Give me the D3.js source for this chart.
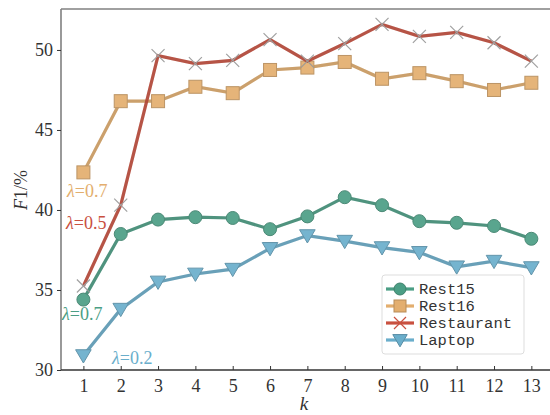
<!DOCTYPE html>
<html>
<head>
<meta charset="utf-8">
<script src="https://cdn.jsdelivr.net/npm/d3@7"></script>
<style>
  body { margin: 0; background: #fff; }
  svg { display: block; }
</style>
</head>
<body>
<div id="chart"></div>
<script>
// Data
var kValues = [1, 2, 3, 4, 5, 6, 7, 8, 9, 10, 11, 12, 13];
var rest15 = [34.4, 38.5, 39.4, 39.55, 39.5, 38.8, 39.6, 40.8, 40.3, 39.3, 39.2, 39.0, 38.2];
var rest16 = [42.35, 46.8, 46.8, 47.7, 47.3, 48.75, 48.9, 49.25, 48.2, 48.55, 48.05, 47.5, 47.95];
var restaurant = [35.25, 40.3, 49.65, 49.15, 49.35, 50.65, 49.3, 50.4, 51.6, 50.85, 51.1, 50.45, 49.3];
var laptop = [30.9, 33.8, 35.5, 36.0, 36.3, 37.6, 38.4, 38.05, 37.65, 37.35, 36.45, 36.8, 36.4];
var yTicks = [30, 35, 40, 45, 50];

var series = [
  { name: "Rest15", values: rest15, color: "#4b9e85", marker: "circle" },
  { name: "Rest16", values: rest16, color: "#e3ae6e", marker: "square" },
  { name: "Restaurant", values: restaurant, color: "#c9503f", marker: "x" },
  { name: "Laptop", values: laptop, color: "#6aaecb", marker: "triangle" }
];

var notes = [
  { text: "0.7", color: "#e3ae6e", x: 67, y: 197 },
  { text: "0.5", color: "#c9503f", x: 66, y: 229 },
  { text: "0.7", color: "#4b9e85", x: 62, y: 320 },
  { text: "0.2", color: "#6aaecb", x: 112, y: 364 }
];

// SVG area
var svgWidth = 550;
var svgHeight = 415;
var plot = { left: 61, top: 9, bottom: 370 };

var svg = d3.select("#chart")
  .append("svg")
  .attr("width", svgWidth)
  .attr("height", svgHeight);

var xScale = d3.scaleLinear()
  .domain([0.4, 13.6])
  .range([plot.left, plot.left + 13.2 * 37.33]);

var yScale = d3.scaleLinear()
  .domain([30, 52.56])
  .range([plot.bottom, plot.top]);

var serif = "'Liberation Serif', 'DejaVu Serif', serif";

// spines
svg.append("line")
  .attr("x1", plot.left).attr("x2", svgWidth)
  .attr("y1", plot.top).attr("y2", plot.top)
  .attr("stroke", "#808080").attr("stroke-width", 1.6);
svg.append("line")
  .attr("x1", plot.left).attr("x2", plot.left)
  .attr("y1", plot.top).attr("y2", plot.bottom)
  .attr("stroke", "#808080").attr("stroke-width", 1.6);

// x axis (ticks point inward)
var xAxis = d3.axisBottom(xScale).tickValues(kValues).tickSize(-4).tickPadding(9);
var gx = svg.append("g")
  .attr("transform", `translate(0, ${plot.bottom})`)
  .call(xAxis);
gx.select(".domain").attr("d", `M${plot.left},0H${svgWidth}`).attr("stroke", "#333").attr("stroke-width", 1.6);
gx.selectAll(".tick line").attr("stroke", "#333");
gx.selectAll("text").attr("font-family", serif).attr("font-size", "18px").attr("fill", "#333");

// y axis
var yAxis = d3.axisLeft(yScale).tickValues(yTicks).tickSize(4).tickPadding(4);
var gy = svg.append("g")
  .attr("transform", `translate(${plot.left}, 0)`)
  .call(yAxis);
gy.select(".domain").remove();
gy.selectAll(".tick line").attr("stroke", "#333");
gy.selectAll("text").attr("font-family", serif).attr("font-size", "18px").attr("fill", "#333");

// lines
var line = d3.line()
  .x((d, i) => xScale(kValues[i]))
  .y(d => yScale(d));

function drawMarker(g, type, color, size) {
  if (type === "circle") {
    g.append("circle").attr("r", size * 0.5)
      .attr("fill", color).attr("stroke", d3.color(color).darker(0.6)).attr("stroke-width", 1);
  } else if (type === "square") {
    g.append("rect").attr("x", -size * 0.5).attr("y", -size * 0.5)
      .attr("width", size).attr("height", size)
      .attr("fill", color).attr("stroke", d3.color(color).darker(0.6)).attr("stroke-width", 1);
  } else if (type === "x") {
    var h = size * 0.5;
    g.append("path").attr("d", `M${-h},${-h}L${h},${h}M${-h},${h}L${h},${-h}`)
      .attr("stroke", "#999").attr("stroke-width", 1.2).attr("fill", "none");
  } else if (type === "triangle") {
    var t = size * 0.6;
    g.append("path").attr("d", `M${-t},${-t * 0.75}L${t},${-t * 0.75}L0,${t * 0.95}Z`)
      .attr("fill", color).attr("stroke", d3.color(color).darker(0.6)).attr("stroke-width", 1);
  }
}

series.forEach(function(s) {
  var g = svg.append("g").attr("opacity", 0.92);
  g.append("path")
    .datum(s.values)
    .attr("d", line)
    .attr("fill", "none")
    .attr("stroke", s.color)
    .attr("stroke-width", 3.2);
  g.append("path")
    .datum(s.values)
    .attr("d", line)
    .attr("fill", "none")
    .attr("stroke", "#000")
    .attr("stroke-opacity", 0.12)
    .attr("stroke-width", 3.2);
  g.selectAll("g.mk")
    .data(s.values)
    .enter()
    .append("g")
    .attr("class", "mk")
    .attr("transform", (d, i) => `translate(${xScale(kValues[i])}, ${yScale(d)})`)
    .each(function() { drawMarker(d3.select(this), s.marker, s.color, 13); });
});

// annotations
notes.forEach(function(n) {
  var t = svg.append("text")
    .attr("x", n.x).attr("y", n.y)
    .attr("font-family", serif).attr("font-size", "18px")
    .attr("fill", n.color);
  t.append("tspan").attr("font-style", "italic").text("λ");
  t.append("tspan").text("=" + n.text);
});

// axis labels
var yl = svg.append("text")
  .attr("transform", "translate(27, 190) rotate(-90)")
  .attr("text-anchor", "middle")
  .attr("font-family", serif).attr("font-size", "18px").attr("fill", "#333");
yl.append("tspan").attr("font-style", "italic").text("F");
yl.append("tspan").text("1/%");

svg.append("text")
  .attr("x", 304).attr("y", 410)
  .attr("text-anchor", "middle")
  .attr("font-family", serif).attr("font-size", "19px").attr("font-style", "italic")
  .attr("fill", "#333")
  .text("k");

// legend
var legend = svg.append("g").attr("transform", "translate(382, 275)");
legend.append("rect")
  .attr("width", 142).attr("height", 79).attr("rx", 3)
  .attr("fill", "#fff").attr("fill-opacity", 0.85)
  .attr("stroke", "#ddd").attr("stroke-width", 1);
series.forEach(function(s, i) {
  var row = legend.append("g").attr("transform", `translate(0, ${14 + i * 17})`);
  row.append("line").attr("x1", 4).attr("x2", 32).attr("y1", 0).attr("y2", 0)
    .attr("stroke", s.color).attr("stroke-width", 3.2);
  var m = row.append("g").attr("transform", "translate(18, 0)");
  drawMarker(m, s.marker, s.color, 12);
  if (s.marker === "x") m.select("path").attr("stroke", s.color);
  row.append("text")
    .attr("x", 37).attr("y", 5)
    .attr("font-family", "'Liberation Mono', 'DejaVu Sans Mono', monospace")
    .attr("font-size", "15.5px").attr("fill", "#333")
    .text(s.name);
});
</script>
</body>
</html>
